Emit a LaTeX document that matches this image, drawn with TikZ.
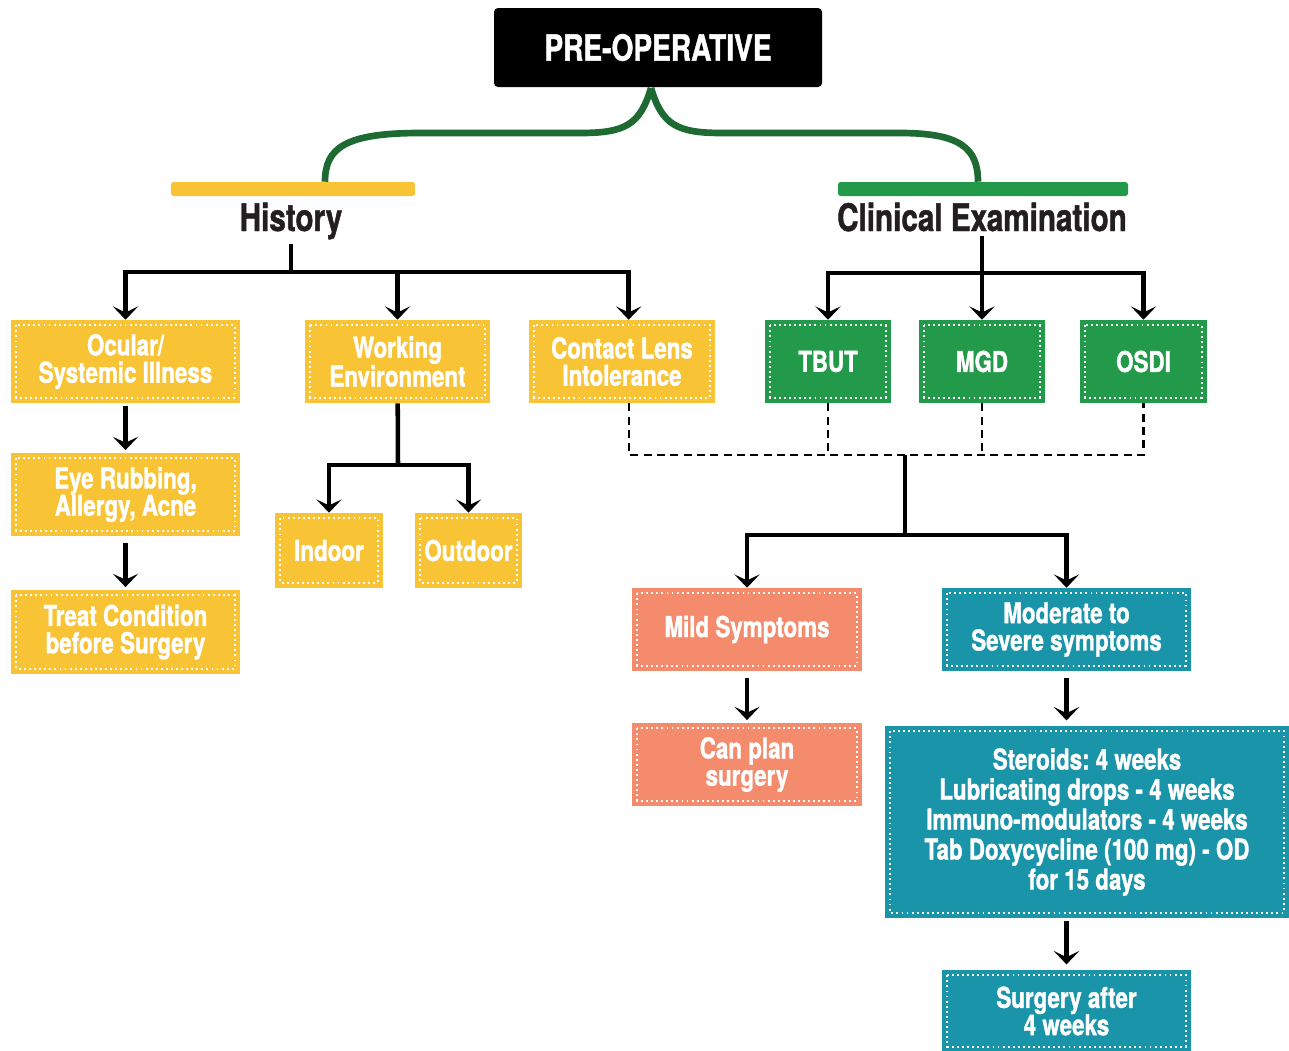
\documentclass[tikz,border=0pt]{standalone}
\usepackage{fontspec}
\setmainfont{TeX Gyre Heros}[FakeStretch=0.78, BoldFeatures={FakeBold=1.2}]
\usetikzlibrary{arrows.meta}
\usepackage{xcolor}
\definecolor{amarillo}{HTML}{F8C436}
\definecolor{verde}{HTML}{229A4A}
\definecolor{salmon}{HTML}{F48B6D}
\definecolor{azul}{HTML}{1A94A8}
\definecolor{curva}{HTML}{1D6A32}
\definecolor{tinta}{HTML}{231F20}
\tikzset{
  caja/.style={inner sep=0pt, align=center, text=white,
    font=\bfseries\fontsize{21.5}{20.5}\selectfont,
    path picture={\draw[white, line width=1.4pt, dash pattern=on 1.4pt off 2.4pt]
      ([shift={(4pt,-4pt)}]path picture bounding box.north west) rectangle
      ([shift={(-4pt,4pt)}]path picture bounding box.south east);}},
  histbox/.style={caja, fill=amarillo},
  exambox/.style={caja, fill=verde},
  mildbox/.style={caja, fill=salmon},
  sevbox/.style={caja, fill=azul},
  titulo/.style={font=\bfseries\fontsize{28.5}{30}\selectfont, text=tinta, anchor=base},
  linea/.style={line width=3.4pt},
  flecha/.style={line width=3.4pt, -{Stealth[length=10pt,width=19pt,inset=4.5pt]}},
  guion/.style={line width=1.6pt, dash pattern=on 6pt off 4pt}
}
\frenchspacing

\begin{document}
\begin{tikzpicture}[x=0.75pt,y=-0.75pt]
        \useasboundingbox (0,0) rectangle (1289,1050);
        % titulo
        \node[fill=black, rounded corners=3pt, text=white, font=\bfseries\fontsize{27}{30}\selectfont,
          minimum width=246pt, minimum height=59.25pt] (pre) at (658,47.5) {PRE-OPERATIVE};
        \coordinate (top) at (651,88);
        % barras
        \node[fill=amarillo, rounded corners=2pt, minimum width=183pt, minimum height=10.5pt, inner sep=0pt] (hbar) at (293,189) {};
        \node[fill=verde, rounded corners=2pt, minimum width=217.5pt, minimum height=10.5pt, inner sep=0pt] (ebar) at (983,189) {};
        \node[titulo] (history) at (291,231) {History};
        \node[titulo] (exam) at (982,231) {Clinical Examination};
        \draw[line width=5pt, curva] (top) .. controls (640,125) and (625,133) .. (580,133) -- (420,133)
          .. controls (345,133) and (325,148) .. ([xshift=24pt]hbar.north);
        \draw[line width=5pt, curva] (top) .. controls (662,125) and (677,133) .. (722,133) -- (900,133)
          .. controls (960,133) and (978,148) .. ([xshift=-3.75pt]ebar.north);
        % historia
        \node[histbox, minimum width=171.75pt, minimum height=62.25pt] (ocular) at (125.5,361.5) {Ocular/\\Systemic Illness};
        \node[histbox, minimum width=138.75pt, minimum height=62.25pt] (working) at (397.5,361.5) {Working\\Environment};
        \node[histbox, minimum width=139.5pt, minimum height=62.25pt] (lens) at (622,361.5) {Contact Lens\\Intolerance};
        \node[histbox, minimum width=171.75pt, minimum height=62.25pt] (rubbing) at (125.5,494.5) {Eye Rubbing,\\Allergy, Acne};
        \node[histbox, minimum width=171.75pt, minimum height=63pt] (treat) at (125.5,632) {Treat Condition\\before Surgery};
        \node[histbox, minimum width=81pt, minimum height=56.25pt] (indoor) at (329,550.5) {Indoor};
        \node[histbox, minimum width=80.25pt, minimum height=56.25pt] (outdoor) at (468.5,550.5) {Outdoor};
        % examen
        \node[exambox, minimum width=94.5pt, minimum height=62.25pt] (tbut) at (828,361.5) {TBUT};
        \node[exambox, minimum width=94.5pt, minimum height=62.25pt] (mgd) at (982,361.5) {MGD};
        \node[exambox, minimum width=95.25pt, minimum height=62.25pt] (osdi) at (1143.5,361.5) {OSDI};
        % sintomas
        \node[mildbox, minimum width=172.5pt, minimum height=62.25pt] (mild) at (747,629.5) {Mild Symptoms};
        \node[mildbox, minimum width=172.5pt, minimum height=62.25pt] (plan) at (747,764.5) {Can plan\\surgery};
        \node[sevbox, minimum width=186.75pt, minimum height=62.25pt] (moderate) at (1066.5,629.5) {Moderate to\\Severe symptoms};
        \node[sevbox, minimum width=303pt, minimum height=144pt, font=\bfseries\fontsize{21.5}{22.5}\selectfont] (steroids) at (1087,822)
          {Steroids: 4 weeks\\Lubricating drops - 4 weeks\\Immuno-modulators - 4 weeks\\Tab Doxycycline (100 mg) - OD\\for 15 days};
        \node[sevbox, minimum width=186.75pt, minimum height=61.5pt] (after) at (1066.5,1011) {Surgery after\\4 weeks};
        % uniones
        \coordinate (hj) at (291,272);
        \coordinate (ej) at (982,273);
        \coordinate (wj) at (398,465);
        \coordinate (dj) at (905,455);
        \coordinate (sj) at (905,535);
        \draw[linea] (history.south) -- (hj);
        \draw[flecha] (hj) -| (ocular.north);
        \draw[flecha] (hj) -| (working.north);
        \draw[flecha] (hj) -| ([xshift=5pt]lens.north);
        \draw[flecha] (exam.south) -- (mgd.north);
        \draw[flecha] (ej) -| (tbut.north);
        \draw[flecha] (ej) -| (osdi.north);
        \draw[flecha, shorten <=2pt, shorten >=2pt] (ocular) -- (rubbing);
        \draw[flecha, shorten <=5pt, shorten >=2pt] (rubbing) -- (treat);
        \draw[linea] (working) -- (wj);
        \draw[flecha] (wj) -| (indoor.north);
        \draw[flecha] (wj) -| (outdoor.north);
        \draw[guion] ([xshift=5pt]lens.south) |- (osdi.south |- dj) -- (osdi.south);
        \draw[guion] (tbut.south) -- (tbut.south |- dj);
        \draw[guion] (mgd.south) -- (mgd.south |- dj);
        \draw[linea] (dj) -- (sj);
        \draw[flecha] (sj) -| (mild.north);
        \draw[flecha] (sj) -| (moderate.north);
        \draw[flecha, shorten <=5pt, shorten >=2pt] (mild) -- (plan);
        \draw[flecha, shorten <=5pt, shorten >=4pt] (moderate.south) -- (moderate.south |- steroids.north);
        \draw[flecha, shorten <=2pt, shorten >=4pt] (after.north |- steroids.south) -- (after.north);
\end{tikzpicture}
\end{document}
